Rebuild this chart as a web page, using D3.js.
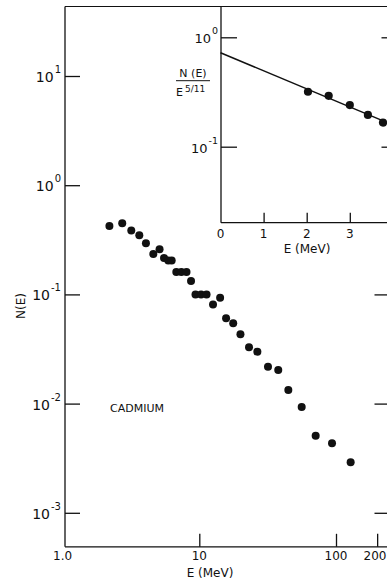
<!DOCTYPE html>
<html>
<head>
<meta charset="utf-8">
<script src="https://cdn.jsdelivr.net/npm/d3@7"></script>
<style>
  html, body { margin: 0; padding: 0; background: #fff; }
  svg { display: block; }
  text { font-family: "DejaVu Sans", sans-serif; fill: #111; }
</style>
</head>
<body>
<svg id="chart" width="387" height="579"></svg>
<script>
// ---- main spectrum (Cadmium) ----
const energy = [2.20, 2.73, 3.18, 3.64, 4.07, 4.61, 5.12, 5.52, 5.93, 6.28, 6.79, 7.39, 8.06, 8.70, 9.38,
                10.3, 11.3, 12.6, 14.2, 15.7, 17.7, 20.0, 23.1, 26.6, 31.8, 37.8, 44.8, 56.1, 71.0, 93.5, 128];
const counts = [0.423, 0.448, 0.385, 0.348, 0.294, 0.234, 0.259, 0.215, 0.204, 0.204, 0.160, 0.160, 0.160, 0.133, 0.100,
                0.100, 0.100, 0.0808, 0.0931, 0.0604, 0.0543, 0.0432, 0.0328, 0.0299, 0.0218, 0.0203, 0.0133, 0.0093, 0.00508, 0.00433, 0.0029];
const xTickValues = [1, 10, 100, 200];
const xTickLabels = ["1.0", "10", "100", "200"];
const yTickValues = [10, 1, 0.1, 0.01, 0.001];
const yTickExponents = ["1", "0", "-1", "-2", "-3"];

// ---- inset: N(E)/E^(5/11) vs E ----
const insetE = [2.03, 2.51, 3.00, 3.42, 3.77];
const insetRatio = [0.318, 0.292, 0.240, 0.195, 0.166];
const fitE = [0, 3.9];
const fitRatio = [0.723, 0.164];
const insetXTicks = [0, 1, 2, 3];
const insetYTicks = [1, 0.1];
const insetYExponents = ["0", "-1"];

(function () {
const svg = d3.select("#chart");
const ink = "#111";

// main scales
const x = d3.scaleLog().domain([1, 1000]).range([62.6, 62.6 + 3 * 136.7]);
const y = d3.scaleLog().domain([0.001, 10]).range([512.8, 76]);
const pL = 65, pR = 388.5, pT = 6.5, pB = 546.8;

// frame
svg.append("line").attr("x1", pL).attr("x2", pR).attr("y1", pT).attr("y2", pT)
  .attr("stroke", ink).attr("stroke-width", 1.2);
svg.append("line").attr("x1", pL).attr("x2", pL).attr("y1", pT).attr("y2", pB)
  .attr("stroke", ink).attr("stroke-width", 1.3);
svg.append("line").attr("x1", pL).attr("x2", pR).attr("y1", pB).attr("y2", pB)
  .attr("stroke", ink).attr("stroke-width", 1.3);

// left ticks
const yAxisL = svg.append("g").attr("transform", `translate(${pL},0)`)
  .call(d3.axisRight(y).tickValues(yTickValues).tickSize(15).tickFormat(""));
yAxisL.select(".domain").remove();
// right ticks
const yAxisR = svg.append("g").attr("transform", `translate(${pR},0)`)
  .call(d3.axisLeft(y).tickValues(yTickValues).tickSize(14).tickFormat(""));
yAxisR.select(".domain").remove();
// bottom ticks
const xAxis = svg.append("g").attr("transform", `translate(0,${pB})`)
  .call(d3.axisTop(x).tickValues(xTickValues.slice(1)).tickSize(13).tickFormat(""));
xAxis.select(".domain").remove();
svg.selectAll(".tick line").attr("stroke", ink).attr("stroke-width", 1.3);

// y tick labels (10^n)
yTickValues.forEach((v, i) => {
  const t = svg.append("text").attr("x", 61).attr("y", y(v) + 6).attr("text-anchor", "end");
  t.append("tspan").attr("font-size", 14).text("10");
  t.append("tspan").attr("font-size", 10).attr("dy", -9).attr("dx", 1).text(yTickExponents[i]);
});
// x tick labels (last one kept inside the picture edge)
xTickValues.forEach((v, i) => {
  const last = i === xTickValues.length - 1;
  svg.append("text").attr("x", last ? 386.5 : x(v)).attr("y", 560)
    .attr("text-anchor", last ? "end" : "middle")
    .attr("font-size", 12).text(xTickLabels[i]);
});
svg.append("text").attr("x", 210).attr("y", 577).attr("text-anchor", "middle")
  .attr("font-size", 12).text("E (MeV)");
svg.append("text").attr("transform", "translate(25,306) rotate(-90)").attr("text-anchor", "middle")
  .attr("font-size", 12).text("N(E)");
svg.append("text").attr("x", 110).attr("y", 412).attr("font-size", 11).text("CADMIUM");

// data points
svg.append("g").selectAll("circle").data(energy).join("circle")
  .attr("cx", d => x(d)).attr("cy", (d, i) => y(counts[i])).attr("r", 4).attr("fill", ink);

// ---- inset ----
const ix = d3.scaleLinear().domain([0, 4]).range([220.5, 220.5 + 4 * 43.1]);
const iy = d3.scaleLog().domain([0.1, 1]).range([146.7, 37.3]);
const iL = 221, iB = 222.7;
svg.append("rect").attr("x", iL).attr("y", pT).attr("width", pR - iL).attr("height", iB - pT)
  .attr("fill", "#fff");
svg.append("line").attr("x1", iL).attr("x2", iL).attr("y1", pT).attr("y2", iB)
  .attr("stroke", ink).attr("stroke-width", 1.3);
svg.append("line").attr("x1", iL).attr("x2", pR).attr("y1", iB).attr("y2", iB)
  .attr("stroke", ink).attr("stroke-width", 1.3);
svg.append("line").attr("x1", iL).attr("x2", pR).attr("y1", pT).attr("y2", pT)
  .attr("stroke", ink).attr("stroke-width", 1.2);

const iyL = svg.append("g").attr("class", "inset").attr("transform", `translate(${iL},0)`)
  .call(d3.axisRight(iy).tickValues(insetYTicks).tickSize(16).tickFormat(""));
iyL.select(".domain").remove();
const iyR = svg.append("g").attr("class", "inset").attr("transform", `translate(${pR},0)`)
  .call(d3.axisLeft(iy).tickValues(insetYTicks).tickSize(7).tickFormat(""));
iyR.select(".domain").remove();
const ixA = svg.append("g").attr("class", "inset").attr("transform", `translate(0,${iB})`)
  .call(d3.axisTop(ix).tickValues(insetXTicks.slice(1)).tickSize(10).tickFormat(""));
ixA.select(".domain").remove();
svg.selectAll(".inset .tick line").attr("stroke", ink).attr("stroke-width", 1.3);

insetXTicks.forEach(v => {
  svg.append("text").attr("x", ix(v)).attr("y", 238).attr("text-anchor", "middle")
    .attr("font-size", 12).text(String(v));
});
insetYTicks.forEach((v, i) => {
  const t = svg.append("text").attr("x", 218).attr("y", iy(v) + 6).attr("text-anchor", "end");
  t.append("tspan").attr("font-size", 13).text("10");
  t.append("tspan").attr("font-size", 9.5).attr("dy", -9).attr("dx", 1).text(insetYExponents[i]);
});
svg.append("text").attr("x", 307).attr("y", 253).attr("text-anchor", "middle")
  .attr("font-size", 12).text("E (MeV)");
// fraction label
svg.append("text").attr("x", 193).attr("y", 77).attr("text-anchor", "middle")
  .attr("font-size", 11).text("N (E)");
svg.append("line").attr("x1", 176).attr("x2", 210).attr("y1", 80.7).attr("y2", 80.7)
  .attr("stroke", ink).attr("stroke-width", 1);
const den = svg.append("text").attr("x", 176).attr("y", 96).attr("font-size", 11);
den.append("tspan").text("E");
den.append("tspan").attr("font-size", 9).attr("dy", -4).attr("dx", 2).text("5/11");

// fit line
svg.append("path")
  .datum(fitE.map((e, i) => [e, fitRatio[i]]))
  .attr("d", d3.line().x(d => ix(d[0])).y(d => iy(d[1])))
  .attr("fill", "none").attr("stroke", ink).attr("stroke-width", 1.5);
svg.append("g").selectAll("circle").data(insetE).join("circle")
  .attr("cx", d => ix(d)).attr("cy", (d, i) => iy(insetRatio[i])).attr("r", 4.1).attr("fill", ink);
})();
</script>
</body>
</html>
